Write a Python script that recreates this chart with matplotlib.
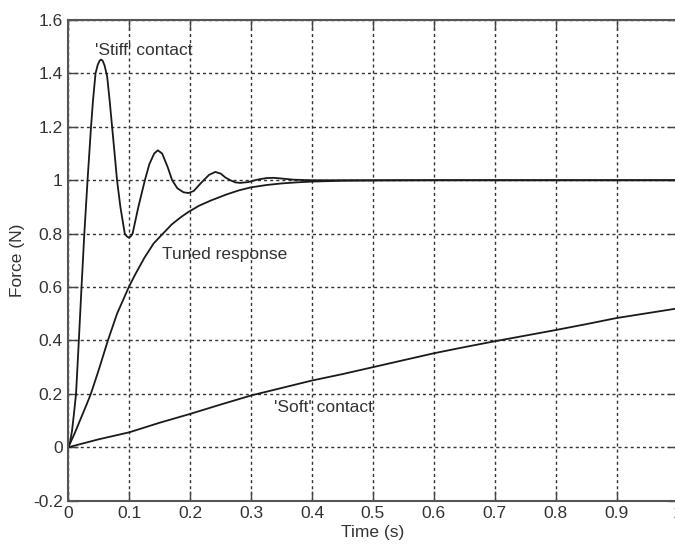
import matplotlib
matplotlib.use("Agg")
import matplotlib.pyplot as plt

FIG_W = 675
FIG_H = 549
DPI = 100
LINE_COLOUR = '#1a1a1a'
TEXT_COLOUR = '#333333'

# 'Stiff' contact response
stiff_t = [0.0, 0.003, 0.006, 0.009, 0.0127, 0.0173, 0.0217, 0.0263,
           0.0316, 0.0373, 0.0406, 0.0447, 0.0484, 0.0515, 0.0538, 0.0565,
           0.0595, 0.0637, 0.0678, 0.0719, 0.076, 0.080, 0.0855, 0.0927,
           0.096, 0.0993, 0.1025, 0.1055, 0.115, 0.1257, 0.133, 0.141,
           0.147, 0.154, 0.163, 0.1705, 0.179, 0.189, 0.1974, 0.206, 0.218,
           0.231, 0.2413, 0.250, 0.258, 0.266, 0.274, 0.282, 0.295, 0.310,
           0.325, 0.337, 0.352, 0.370, 0.40, 0.50, 0.60, 0.70, 0.80, 0.90,
           1.0]
stiff_f = [0.0, 0.02, 0.06, 0.12, 0.2, 0.4, 0.6, 0.8,
           1.0, 1.2, 1.3, 1.4, 1.433, 1.448, 1.452, 1.447,
           1.43, 1.39, 1.3, 1.2, 1.1, 1.0, 0.9, 0.8,
           0.79, 0.785, 0.79, 0.8, 0.9, 1.0, 1.06, 1.1,
           1.112, 1.1, 1.05, 1.0, 0.97, 0.955, 0.952, 0.96, 0.99,
           1.02, 1.031, 1.025, 1.01, 1.0, 0.992, 0.99, 0.993, 1.002,
           1.008, 1.009, 1.006, 1.002, 1.0, 1.0, 1.0, 1.0, 1.0, 1.0,
           1.0]

# Tuned response
tuned_t = [0.0, 0.01, 0.02, 0.03, 0.037, 0.05, 0.065, 0.08,
           0.0993, 0.11, 0.125, 0.14, 0.154, 0.17, 0.185,
           0.197, 0.215, 0.235, 0.26, 0.28, 0.299, 0.325, 0.35, 0.375,
           0.40, 0.45, 0.50, 0.60, 0.70, 0.80, 0.90, 1.0]
tuned_f = [0.0, 0.05, 0.105, 0.16, 0.2, 0.29, 0.4, 0.5,
           0.6, 0.648, 0.71, 0.763, 0.797, 0.835, 0.862,
           0.881, 0.905, 0.925, 0.947, 0.962, 0.973, 0.982, 0.988, 0.992,
           0.995, 0.998, 0.999, 1.0, 1.0, 1.0, 1.0, 1.0]

# 'Soft' contact response
soft_t = [0.0, 0.02, 0.05, 0.10, 0.15, 0.20, 0.25, 0.30, 0.35, 0.40, 0.45,
          0.50, 0.55, 0.60, 0.65, 0.70, 0.75, 0.80, 0.85, 0.90, 0.95, 1.0]
soft_f = [0.0, 0.012, 0.03, 0.056, 0.092, 0.125, 0.16, 0.194, 0.222, 0.25,
          0.274, 0.30, 0.326, 0.352, 0.375, 0.397, 0.418, 0.439, 0.461,
          0.484, 0.502, 0.52]

x_ticks = [0, 0.1, 0.2, 0.3, 0.4, 0.5, 0.6, 0.7, 0.8, 0.9, 1]
x_labels = ['0', '0.1', '0.2', '0.3', '0.4', '0.5', '0.6', '0.7', '0.8',
            '0.9', '1']
y_ticks = [-0.2, 0, 0.2, 0.4, 0.6, 0.8, 1, 1.2, 1.4, 1.6]
y_labels = ['-0.2', '0', '0.2', '0.4', '0.6', '0.8', '1', '1.2', '1.4',
            '1.6']

labels = ["'Stiff' contact", "Tuned response", "'Soft' contact"]
label_pos = [(0.044, 1.487), (0.154, 0.722), (0.337, 0.15)]

plt.rcParams['font.family'] = ['Liberation Sans', 'DejaVu Sans']

fig = plt.figure(figsize=(FIG_W / DPI, FIG_H / DPI), dpi=DPI)
# the right edge of the original axes is cut off by the image border
left = 68.3 / FIG_W
right = 677.5 / FIG_W
bottom = 1 - 500.7 / FIG_H
top = 1 - 20.0 / FIG_H
ax = fig.add_axes([left, bottom, right - left, top - bottom])

for t, f in [(stiff_t, stiff_f), (tuned_t, tuned_f), (soft_t, soft_f)]:
    ax.plot(t, f, color=LINE_COLOUR, linewidth=1.3,
            solid_joinstyle='round')

for text, (tx, ty) in zip(labels, label_pos):
    ax.text(tx, ty, text, fontsize=12.5, color=TEXT_COLOUR,
            ha='left', va='center')

ax.set_xlim(0, 1)
ax.set_ylim(-0.2, 1.6)
ax.set_xticks(x_ticks)
ax.set_xticklabels(x_labels)
ax.set_yticks(y_ticks)
ax.set_yticklabels(y_labels)
ax.tick_params(direction='in', length=7, width=1, labelsize=12.5,
               labelcolor=TEXT_COLOUR, color='#444444', top=True,
               right=True, pad=4)
ax.grid(True, color='#333333', linestyle=(0, (2.2, 2.2)), linewidth=1.0)

for spine in ax.spines.values():
    spine.set_color('#555555')
    spine.set_linewidth(1.5)

ax.set_xlabel('Time (s)', fontsize=12.5, color=TEXT_COLOUR, labelpad=3)
ax.set_ylabel('Force (N)', fontsize=12.5, color=TEXT_COLOUR, labelpad=6)

fig.savefig('out.png', dpi=DPI)
